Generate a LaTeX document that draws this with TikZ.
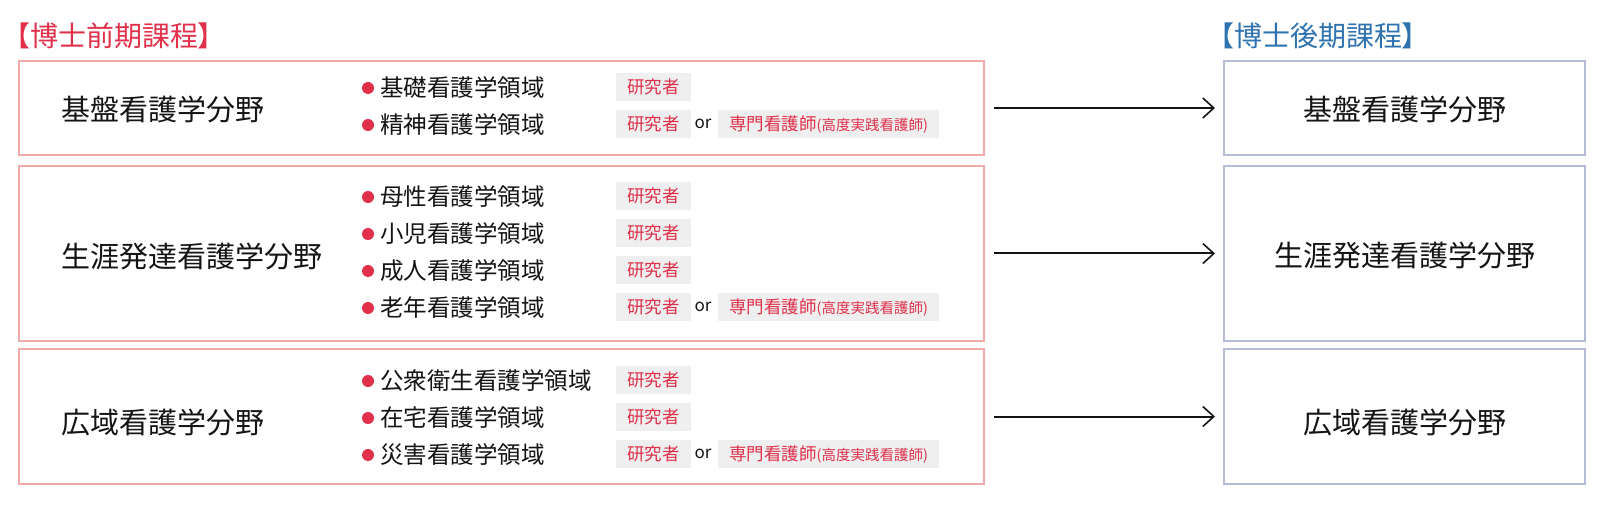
\documentclass[tikz,border=0pt]{standalone}
\usepackage{fontspec}
\setmainfont{Noto Sans CJK JP}
\newfontfamily\jpp[RawFeature=+palt]{Noto Sans CJK JP}
\usetikzlibrary{arrows.meta}
\definecolor{tred}{HTML}{E0304A}
\definecolor{tblue}{HTML}{2F72B0}
\definecolor{lborder}{HTML}{F0AAAA}
\definecolor{rborder}{HTML}{B3BBD6}
\definecolor{tagbg}{HTML}{EFEFEF}
\definecolor{inkc}{HTML}{141414}
\begin{document}
\begin{tikzpicture}[x=1pt,y=-1pt,
  lbox/.style={draw=lborder, line width=2pt, minimum width=965pt, inner sep=0pt},
  rbox/.style={draw=rborder, line width=2pt, minimum width=361pt, inner sep=0pt},
  lab/.style={font=\fontsize{29}{29}\selectfont, text=inkc, inner sep=0pt, text height=23.8pt, text depth=1.8pt},
  ttl/.style={font=\jpp\fontsize{28}{28}\selectfont, inner sep=0pt, text height=23pt, text depth=1.7pt, anchor=west},
  itm/.style={font=\fontsize{23.5}{23.5}\selectfont, text=inkc, inner sep=0pt, text height=19.3pt, text depth=1.4pt, anchor=west},
  bul/.style={circle, fill=tred, minimum size=12pt, inner sep=0pt},
  tagbox/.style={fill=tagbg, text=tred, font=\fontsize{17.5}{17.5}\selectfont, inner xsep=11pt, inner ysep=0pt, minimum height=28pt, text height=14.3pt, text depth=1pt, anchor=west},
  ortxt/.style={font=\fontsize{17}{17}\selectfont, text=inkc, inner sep=0pt},
  arr/.style={draw=inkc, line width=2pt, -{Straight Barb[length=11pt,width=20pt,line width=1.6pt]}, shorten <=9pt, shorten >=8pt}
]
\fill[white] (0,0) rectangle (1607,505);
\useasboundingbox (0,0) rectangle (1607,505);

% titles
\node[ttl, text=tred] (t1) at (16,36) {【博士前期課程】};
\node[ttl, text=tblue] (t2) at (1220,36) {【博士後期課程】};

% left boxes
\node[lbox, minimum height=94pt] (L1) at (501.5,108) {};
\node[lbox, minimum height=175pt] (L2) at (501.5,253.5) {};
\node[lbox, minimum height=135pt] (L3) at (501.5,416.5) {};

% right boxes
\node[rbox, minimum height=94pt] (R1) at (1404.5,108) {};
\node[rbox, minimum height=175pt] (R2) at (1404.5,253.5) {};
\node[rbox, minimum height=135pt] (R3) at (1404.5,416.5) {};

% left labels
\node[lab, anchor=west] (l1) at (61,110) {基盤看護学分野};
\node[lab, anchor=west] (l2) at (61,257) {生涯発達看護学分野};
\node[lab, anchor=west] (l3) at (61,422) {広域看護学分野};

% right labels
\node[lab] (r1) at (1404.5,110) {基盤看護学分野};
\node[lab] (r2) at (1404.5,256) {生涯発達看護学分野};
\node[lab] (r3) at (1404.5,422) {広域看護学分野};

% domain rows
\foreach \y/\t/\n in {88/基礎看護学領域/a, 125/精神看護学領域/b,
  197/母性看護学領域/c, 234/小児看護学領域/d, 271/成人看護学領域/e, 308/老年看護学領域/f,
  381/公衆衛生看護学領域/g, 418/在宅看護学領域/h, 455/災害看護学領域/i} {
  \node[bul] (bul\n) at (368,\y) {};
  \node[itm] (itm\n) at (380,\y) {\t};
  \node[tagbox] (tag\n) at (616,\y-1) {研究者};
}
\foreach \y/\n in {125/b, 308/f, 455/i} {
  \node[ortxt] (or\n) at (703,\y-1) {or};
  \node[tagbox] (sp\n) at (718,\y-1) {専門看護師{\fontsize{14.5}{14.5}\selectfont(高度実践看護師)}};
}

% arrows
\draw[arr] (L1.east) -- (R1.west);
\draw[arr] (L2.east) -- (R2.west);
\draw[arr] (L3.east) -- (R3.west);
\end{tikzpicture}
\end{document}
